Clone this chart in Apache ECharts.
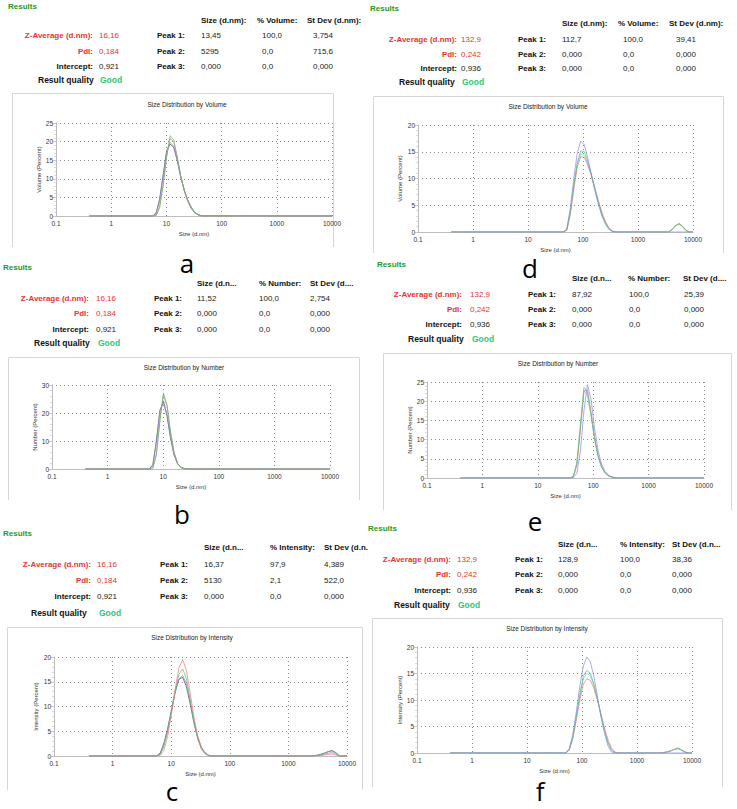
<!DOCTYPE html>
<html><head><meta charset="utf-8">
<script src="https://cdn.jsdelivr.net/npm/echarts@6/dist/echarts.min.js"></script>
<style>html,body{margin:0;padding:0;background:#fff}#c{width:737px;height:809px}</style>
</head><body><div id="c"></div>
<script>
// ---------- DATA ----------
// Panel a: Size Distribution by Volume (sample 1)
const sizesA = [0.4, 5.615, 6.503, 7.531, 8.721, 10.10, 11.70, 13.54, 15.69, 18.17, 21.04, 24.36, 28.21, 32.67, 37.84, 43.82, 10000];
const aBlack = [0, 0, 0.8, 4.5, 11.0, 17.5, 19.3, 18.5, 15.0, 10.5, 7.0, 4.3, 2.3, 1.0, 0.35, 0.05, 0];
const aBlue  = [0, 0, 0.5, 4.0, 10.5, 17.2, 19.8, 18.8, 15.2, 10.6, 7.0, 4.2, 2.2, 1.0, 0.3, 0, 0];
const aRed   = [0, 0, 0.2, 2.5, 8.5, 16.0, 20.8, 20.0, 15.8, 10.8, 6.9, 4.0, 2.1, 0.9, 0.3, 0, 0];
const aGreen = [0, 0, 0.1, 2.2, 8.0, 16.0, 21.6, 20.5, 16.0, 10.8, 6.8, 3.9, 2.0, 0.8, 0.25, 0, 0];

// Panel b: Size Distribution by Number (sample 1)
const sizesB = [0.4, 5.615, 6.503, 7.531, 8.721, 10.10, 11.70, 13.54, 15.69, 18.17, 21.04, 24.36, 28.21, 10000];
const bBlack = [0, 0, 1.5, 10.0, 21.0, 24.0, 19.0, 11.0, 5.0, 1.8, 0.5, 0.1, 0, 0];
const bBlue  = [0, 0, 1.2, 9.5, 20.5, 24.4, 19.5, 11.5, 5.2, 1.9, 0.55, 0.1, 0, 0];
const bRed   = [0, 0, 0.4, 5.5, 17.5, 26.6, 22.5, 13.0, 5.8, 2.0, 0.5, 0.1, 0, 0];
const bGreen = [0, 0, 0.3, 5.0, 17.0, 27.0, 23.0, 13.5, 6.0, 2.0, 0.5, 0.1, 0, 0];

// Panel c: Size Distribution by Intensity (sample 1)
const sizesC = [0.4, 5.615, 6.503, 7.531, 8.721, 10.10, 11.70, 13.54, 15.69, 18.17, 21.04, 24.36, 28.21, 32.67, 37.84, 43.82, 50.75, 2305, 2669, 3091, 3580, 4145, 4801, 5560, 6439, 7456, 10000];
const cBlack = [0, 0, 0.6, 2.6, 5.6, 9.3, 13.0, 15.5, 15.9, 14.0, 10.6, 6.8, 3.7, 1.7, 0.6, 0.1, 0, 0, 0.05, 0.15, 0.35, 0.6, 0.9, 1.1, 0.7, 0, 0];
const cBlue  = [0, 0, 0.4, 2.3, 5.3, 9.0, 12.8, 15.5, 16.3, 14.6, 11.1, 7.1, 3.8, 1.7, 0.6, 0.1, 0, 0, 0.05, 0.15, 0.3, 0.55, 0.85, 1.0, 0.6, 0, 0];
const cGreen = [0, 0, 0.3, 2.0, 5.0, 9.0, 13.2, 16.5, 17.6, 15.6, 11.5, 7.0, 3.5, 1.4, 0.4, 0.05, 0, 0, 0, 0.1, 0.2, 0.35, 0.55, 0.7, 0.4, 0, 0];
const cRed   = [0, 0, 0.1, 1.2, 4.0, 8.5, 13.5, 17.8, 19.5, 17.3, 12.8, 8.0, 4.2, 1.8, 0.6, 0.15, 0, 0, 0, 0.05, 0.1, 0.2, 0.3, 0.4, 0.2, 0, 0];

// Panel d: Size Distribution by Volume (sample 2)
const sizesD = [0.4, 43.82, 50.75, 58.77, 68.06, 78.82, 91.28, 105.7, 122.4, 141.8, 164.2, 190.1, 220.2, 255.0, 295.3, 342.0, 396.1, 3580, 4145, 4801, 5560, 6439, 7456, 8635, 10000];
const dCyan  = [0, 0, 0.4, 3.8, 8.8, 12.8, 14.6, 14.3, 12.8, 10.6, 8.0, 5.5, 3.3, 1.7, 0.6, 0.1, 0, 0, 0.4, 1.1, 1.5, 1.0, 0.25, 0, 0];
const dRed   = [0, 0, 0.3, 3.2, 8.0, 12.2, 14.1, 13.9, 12.5, 10.5, 8.2, 5.9, 3.7, 2.0, 0.8, 0.2, 0, 0, 0.5, 1.15, 1.55, 1.05, 0.3, 0, 0];
const dGreen = [0, 0, 0.4, 3.6, 8.6, 13.0, 15.2, 15.0, 13.2, 10.8, 8.2, 5.6, 3.4, 1.8, 0.7, 0.15, 0, 0, 0.5, 1.2, 1.6, 1.1, 0.3, 0, 0];
const dBlue  = [0, 0, 0.6, 4.5, 10.0, 14.8, 17.0, 16.3, 13.8, 10.8, 7.8, 5.2, 3.0, 1.5, 0.5, 0.1, 0, 0, 0, 0, 0, 0, 0, 0, 0];

// Panel e: Size Distribution by Number (sample 2)
const sizesE = [0.4, 37.84, 43.82, 50.75, 58.77, 68.06, 78.82, 91.28, 105.7, 122.4, 141.8, 164.2, 190.1, 220.2, 255.0, 295.3, 10000];
const eCyan  = [0, 0, 0.5, 4.2, 14.0, 22.8, 21.5, 16.2, 10.2, 5.6, 2.8, 1.3, 0.5, 0.2, 0.05, 0, 0];
const eRed   = [0, 0, 0.3, 3.2, 12.3, 22.6, 23.0, 17.2, 10.8, 6.0, 3.0, 1.4, 0.6, 0.2, 0.05, 0, 0];
const eGreen = [0, 0, 0.4, 3.8, 13.5, 23.6, 22.4, 16.5, 10.2, 5.6, 2.8, 1.3, 0.5, 0.2, 0.05, 0, 0];
const eBlue  = [0, 0, 0.1, 1.2, 7.0, 17.5, 24.3, 20.5, 13.0, 7.2, 3.6, 1.7, 0.7, 0.25, 0.05, 0, 0];

// Panel f: Size Distribution by Intensity (sample 2)
const sizesF = [0.4, 50.75, 58.77, 68.06, 78.82, 91.28, 105.7, 122.4, 141.8, 164.2, 190.1, 220.2, 255.0, 295.3, 342.0, 396.1, 458.7, 2669, 3091, 3580, 4145, 4801, 5560, 6439, 7456, 8635, 10000];
const fCyan  = [0, 0, 0.7, 3.0, 6.8, 10.8, 14.0, 15.0, 14.6, 12.8, 10.2, 7.2, 4.4, 2.0, 0.6, 0.05, 0, 0, 0.1, 0.2, 0.4, 0.7, 0.9, 0.55, 0.2, 0, 0];
const fRed   = [0, 0, 0.6, 2.7, 6.2, 10.0, 13.0, 14.0, 13.7, 12.2, 10.0, 7.4, 4.8, 2.6, 1.0, 0.2, 0, 0, 0.1, 0.2, 0.4, 0.65, 0.8, 0.5, 0.15, 0, 0];
const fGreen = [0, 0, 0.7, 3.0, 6.9, 11.0, 14.5, 15.6, 15.0, 13.0, 10.3, 7.2, 4.3, 2.0, 0.6, 0.05, 0, 0, 0.1, 0.25, 0.45, 0.75, 0.95, 0.6, 0.2, 0, 0];
const fBlue  = [0, 0, 0.8, 3.5, 7.8, 12.6, 16.4, 18.1, 17.2, 14.5, 10.8, 7.0, 3.8, 1.4, 0.2, 0, 0, 0, 0, 0, 0, 0, 0, 0, 0, 0, 0];

// Result tables
const rowLabels = ['Z-Average (d.nm):', 'PdI:', 'Intercept:'];
const peakLabels = ['Peak 1:', 'Peak 2:', 'Peak 3:'];
const headersVolume = ['Size (d.nm):', '% Volume:', 'St Dev (d.nm):'];
const headersNumber = ['Size (d.n...', '% Number:', 'St Dev (d....'];
const headersIntensity = ['Size (d.n...', '% Intensity:', 'St Dev (d.n...'];
const summary1 = ['16,16', '0,184', '0,921'];
const summary2 = ['132,9', '0,242', '0,936'];
const peaksA = [['13,45', '100,0', '3,754'], ['5295', '0,0', '715,6'], ['0,000', '0,0', '0,000']];
const peaksB = [['11,52', '100,0', '2,754'], ['0,000', '0,0', '0,000'], ['0,000', '0,0', '0,000']];
const peaksC = [['16,37', '97,9', '4,389'], ['5130', '2,1', '522,0'], ['0,000', '0,0', '0,000']];
const peaksD = [['112,7', '100,0', '39,41'], ['0,000', '0,0', '0,000'], ['0,000', '0,0', '0,000']];
const peaksE = [['87,92', '100,0', '25,39'], ['0,000', '0,0', '0,000'], ['0,000', '0,0', '0,000']];
const peaksF = [['128,9', '100,0', '38,36'], ['0,000', '0,0', '0,000'], ['0,000', '0,0', '0,000']];
const xTickLabels = ['0.1', '1', '10', '100', '1000', '10000'];

// ---------- STYLE / LAYOUT ----------
const C_BLACK = '#444444', C_BLUE = '#8a8aec', C_RED = '#ee7a72', C_GREEN = '#55c072', C_CYAN = '#70cad8';
const LF = '"Liberation Sans", Arial, sans-serif';

const panels = [
  { letter: 'a', sizes: sizesA, vals: [aBlack, aBlue, aRed, aGreen], colors: [C_BLACK, C_BLUE, C_RED, C_GREEN],
    headers: headersVolume, summary: summary1, peaks: peaksA, title: 'Size Distribution by Volume', yName: 'Volume (Percent)', yMax: 25, yInt: 5,
    grid: [56, 123, 332, 216], box: [12, 93, 333, 247], tPos: [187, 104], lPos: [187, 263], yGap: 14,
    t: { res: [8, 6], hy: 20, hx: [201, 257, 307], ry: [35, 51, 66], lr: 93, vx: 99, pr: 185, cx: [201, 262, 313], qy: 80, qx: 38, gx: 100 } },
  { letter: 'd', sizes: sizesD, vals: [dCyan, dRed, dGreen, dBlue], colors: [C_CYAN, C_RED, C_GREEN, C_BLUE],
    headers: headersVolume, summary: summary2, peaks: peaksD, title: 'Size Distribution by Volume', yName: 'Volume (Percent)', yMax: 20, yInt: 5,
    grid: [418, 125, 693, 232], box: [373, 96, 723, 253], tPos: [548, 106], lPos: [530, 268], yGap: 15,
    t: { res: [370, 8], hy: 23, hx: [562, 618, 669], ry: [39, 54, 68], lr: 457, vx: 461, pr: 546, cx: [562, 623, 676], qy: 82, qx: 399, gx: 462 } },
  { letter: 'b', sizes: sizesB, vals: [bBlack, bBlue, bRed, bGreen], colors: [C_BLACK, C_BLUE, C_RED, C_GREEN],
    headers: headersNumber, summary: summary1, peaks: peaksB, title: 'Size Distribution by Number', yName: 'Number (Percent)', yMax: 30, yInt: 10,
    grid: [52, 385, 330, 469], box: [8, 357, 359, 500], tPos: [184, 367], lPos: [182, 514], yGap: 13,
    t: { res: [3, 267], hy: 283, hx: [197, 259, 310], ry: [298, 313, 329], lr: 89, vx: 96, pr: 182, cx: [197, 259, 310], qy: 343, qx: 34, gx: 98 } },
  { letter: 'e', sizes: sizesE, vals: [eCyan, eRed, eGreen, eBlue], colors: [C_CYAN, C_RED, C_GREEN, C_BLUE],
    headers: headersNumber, summary: summary2, peaks: peaksE, title: 'Size Distribution by Number', yName: 'Number (Percent)', yMax: 25, yInt: 5,
    grid: [427, 382, 704, 478], box: [383, 353, 731, 510], tPos: [558, 363], lPos: [535, 521], yGap: 13,
    t: { res: [377, 264], hy: 278, hx: [572, 628, 683], ry: [294, 309, 324], lr: 462, vx: 470, pr: 556, cx: [572, 629, 684], qy: 339, qx: 408, gx: 472 } },
  { letter: 'c', sizes: sizesC, vals: [cBlack, cBlue, cGreen, cRed], colors: [C_BLACK, C_BLUE, C_GREEN, C_RED],
    headers: headersIntensity, summary: summary1, peaks: peaksC, title: 'Size Distribution by Intensity', yName: 'Intensity (Percent)', yMax: 20, yInt: 5,
    grid: [54, 657, 347, 756], box: [7, 627, 362, 790], tPos: [192, 637], lPos: [172, 791], yGap: 15,
    t: { res: [3, 533], hy: 547, hx: [204, 270, 324], ry: [564, 580, 596], lr: 91, vx: 97, pr: 188, cx: [204, 270, 324], qy: 613, qx: 31, gx: 99 } },
  { letter: 'f', sizes: sizesF, vals: [fCyan, fRed, fGreen, fBlue], colors: [C_CYAN, C_RED, C_GREEN, C_BLUE],
    headers: headersIntensity, summary: summary2, peaks: peaksF, title: 'Size Distribution by Intensity', yName: 'Intensity (Percent)', yMax: 20, yInt: 5,
    grid: [417, 647, 692, 753], box: [372, 618, 722, 787], tPos: [547, 628], lPos: [540, 791], yGap: 14,
    t: { res: [368, 528], hy: 544, hx: [558, 620, 672], ry: [559, 574, 590], lr: 451, vx: 457, pr: 543, cx: [558, 620, 672], qy: 605, qx: 394, gx: 458 } }
];

const gfx = [];
function txt(x, y, s, st) {
  gfx.push({ type: 'text', x: x, y: y, silent: true,
    style: Object.assign({ text: s, fill: '#111', font: '8px ' + LF, textAlign: 'left', textVerticalAlign: 'middle' }, st || {}) });
}

const grids = [], xAxes = [], yAxes = [], series = [];
panels.forEach((p, i) => {
  const [x0, y0, x1, y1] = p.grid;
  grids.push({ left: x0, top: y0, width: x1 - x0, height: y1 - y0 });
  xAxes.push({
    type: 'log', logBase: 10, min: 0.1, max: 10000, gridIndex: i, splitNumber: 5,
    name: 'Size (d.nm)', nameLocation: 'middle', nameGap: 15,
    nameTextStyle: { fontSize: 6, color: '#333', fontFamily: 'Liberation Sans' },
    axisLine: { show: true, onZero: false, lineStyle: { color: '#bdbdbd', width: 1 } },
    axisTick: { show: false },
    splitLine: { show: true, lineStyle: { color: '#8a8a8a', type: [1, 3], width: 1 } },
    axisLabel: { fontSize: 6.5, color: '#333', margin: 4, fontFamily: 'Liberation Sans',
      formatter: v => xTickLabels[Math.round(Math.log10(v)) + 1] }
  });
  yAxes.push({
    type: 'value', min: 0, max: p.yMax, interval: p.yInt, gridIndex: i,
    name: p.yName, nameLocation: 'middle', nameGap: p.yGap, nameRotate: 90,
    nameTextStyle: { fontSize: 6, color: '#333', fontFamily: 'Liberation Sans' },
    axisLine: { show: true, lineStyle: { color: '#bdbdbd', width: 1 } },
    axisTick: { show: true, length: 3, lineStyle: { color: '#c8c8c8' } },
    minorTick: { show: true, splitNumber: 5, length: 2, lineStyle: { color: '#dadada' } },
    splitLine: { show: true, lineStyle: { color: '#8a8a8a', type: [1, 3], width: 1 } },
    axisLabel: { fontSize: 6.5, color: '#333', margin: 3, fontFamily: 'Liberation Sans' }
  });
  p.vals.forEach((v, k) => {
    series.push({
      type: 'line', xAxisIndex: i, yAxisIndex: i, symbol: 'none', showSymbol: false, silent: true,
      data: p.sizes.map((s, j) => [s, v[j]]),
      lineStyle: { width: 0.9, color: p.colors[k], opacity: 0.8 }, itemStyle: { color: p.colors[k] }
    });
  });

  // chart frame
  const [bx0, by0, bx1, by1] = p.box;
  gfx.push({ type: 'polyline', silent: true,
    shape: { points: [[bx0 + 0.5, by1], [bx0 + 0.5, by0 + 0.5], [bx1 + 0.5, by0 + 0.5], [bx1 + 0.5, by1]] },
    style: { stroke: '#d6d6d6', fill: null, lineWidth: 1 } });
  txt(p.tPos[0], p.tPos[1], p.title, { font: '6.5px ' + LF, fill: '#222', textAlign: 'center' });

  // results table
  const t = p.t;
  txt(t.res[0], t.res[1], 'Results', { font: 'bold 8px ' + LF, fill: '#1f9a2a' });
  p.headers.forEach((h, k) => txt(t.hx[k], t.hy, h, { font: 'bold 8px ' + LF }));
  rowLabels.forEach((lab, r) => {
    const red = r < 2;
    txt(t.lr, t.ry[r], lab, { font: 'bold 8px ' + LF, fill: red ? '#e8352f' : '#111', textAlign: 'right' });
    txt(t.vx, t.ry[r], p.summary[r], { font: '8px ' + LF, fill: red ? '#e8352f' : '#222' });
    txt(t.pr, t.ry[r], peakLabels[r], { font: 'bold 8px ' + LF, textAlign: 'right' });
    p.peaks[r].forEach((val, k) => txt(t.cx[k], t.ry[r], val, { font: '8px ' + LF, fill: '#222' }));
  });
  txt(t.qx, t.qy, 'Result quality', { font: 'bold 8.5px ' + LF });
  txt(t.gx, t.qy, 'Good', { font: 'bold 8.5px ' + LF, fill: '#2ec874' });

  // panel letter
  txt(p.lPos[0], p.lPos[1], p.letter, { font: '26px "Open Sans", sans-serif', lineHeight: 26, fill: '#000', textAlign: 'center' });

  if (p.letter === 'c') {
    // panel f image overlaps the right end of panel c's header
    gfx.push({ type: 'rect', silent: true, shape: { x: 368, y: 539, width: 40, height: 15 }, style: { fill: '#fff' } });
  }
});

const chart = echarts.init(document.getElementById('c'), null, { renderer: 'svg' });
chart.setOption({
  backgroundColor: '#fff',
  animation: false,
  grid: grids, xAxis: xAxes, yAxis: yAxes, series: series,
  graphic: { elements: gfx }
});
</script></body></html>
